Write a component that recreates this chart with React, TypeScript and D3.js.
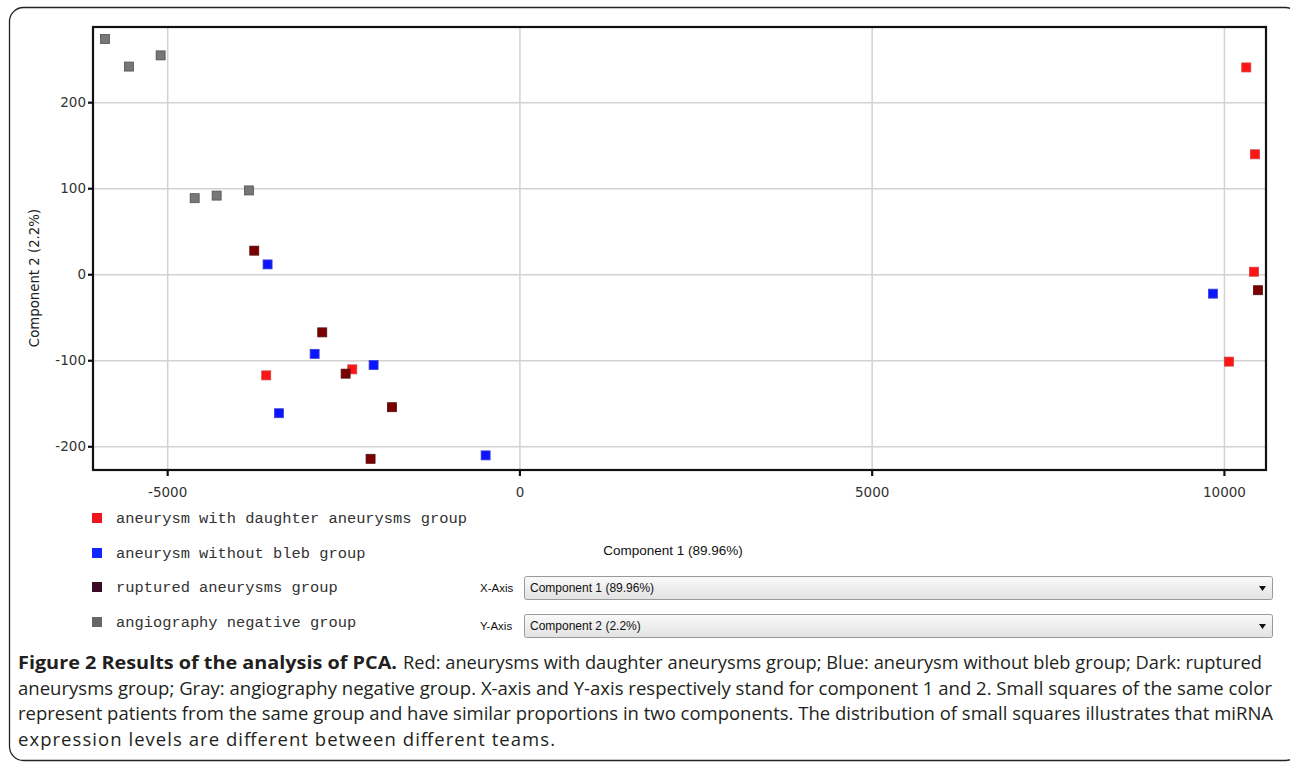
import React from "react";
import * as d3 from "d3";

// ---- Data ----
const groups = [
  "aneurysm with daughter aneurysms group",
  "aneurysm without bleb group",
  "ruptured aneurysms group",
  "angiography negative group",
];

const redPoints: [number, number][] = [
  [-3601, -117], [-2380, -110], [10310, 241], [10433, 140], [10419, 3.5], [10064, -101],
];
const bluePoints: [number, number][] = [
  [-3582, 12], [-2914, -92], [-2077, -105], [-3421, -161], [-487, -210], [9837, -22],
];
const darkPoints: [number, number][] = [
  [-3771, 28], [-2806, -67], [-2474, -115], [-1817, -154], [-2120, -214], [10476, -18],
];
const grayPoints: [number, number][] = [
  [-5891, 274], [-5550, 242], [-5100, 255], [-4617, 89], [-4305, 92], [-3847, 98],
];

const xTicks = [-5000, 0, 5000, 10000];
const yTicks = [-200, -100, 0, 100, 200];
const xDomain: [number, number] = [-6060, 10590];
const yDomain: [number, number] = [-227, 288];

const xTitle = "Component 1 (89.96%)";
const yTitle = "Component 2 (2.2%)";
const xDropdown = "Component 1 (89.96%)";
const yDropdown = "Component 2 (2.2%)";

const captionBold = "Figure 2 Results of the analysis of PCA.";
const captionLine1 = "Red: aneurysms with daughter aneurysms group; Blue: aneurysm without bleb group; Dark: ruptured";
const captionLine2 = "aneurysms group; Gray: angiography negative group. X-axis and Y-axis respectively stand for component 1 and 2. Small squares of the same color";
const captionLine3 = "represent patients from the same group and have similar proportions in two components. The distribution of small squares illustrates that miRNA";
const captionLine4 = "expression levels are different between different teams.";

const pointFill = ["#ff1414", "#0a14ff", "#7a0000", "#777777"];
const pointStroke = ["#d04040", "#4040d0", "#501010", "#505050"];
const legendFill = ["#f0141c", "#1028ff", "#3a0a26", "#666666"];

export default function App() {
  const W = 1290, H = 763;
  const plot = { left: 93, right: 1266, top: 27, bottom: 470 };
  const x = d3.scaleLinear().domain(xDomain).range([plot.left, plot.right]);
  const y = d3.scaleLinear().domain(yDomain).range([plot.bottom, plot.top]);
  const all = [redPoints, bluePoints, darkPoints, grayPoints];
  const ms = 9;
  const sans = "'DejaVu Sans', Verdana, sans-serif";
  const legendY = [518, 553, 587, 622];

  return (
    <svg width={W} height={H} style={{ position: "absolute", left: 0, top: 0, background: "#fff" }}>
      {/* outer frame */}
      <rect x={9.5} y={7.5} width={1290} height={753} rx={14} fill="none" stroke="#222" strokeWidth={1.3} />

      {/* grid */}
      {xTicks.map((t) => (
        <line key={"gx" + t} x1={x(t)} x2={x(t)} y1={plot.top} y2={plot.bottom} stroke="#d2d2d2" strokeWidth={1.5} />
      ))}
      {yTicks.map((t) => (
        <line key={"gy" + t} x1={plot.left} x2={plot.right} y1={y(t)} y2={y(t)} stroke="#d2d2d2" strokeWidth={1.5} />
      ))}

      {/* points */}
      {all.map((pts, gi) =>
        pts.map((p, i) => (
          <rect
            key={gi + "-" + i}
            x={x(p[0]) - ms / 2}
            y={y(p[1]) - ms / 2}
            width={ms}
            height={ms}
            fill={pointFill[gi]}
            stroke={pointStroke[gi]}
            strokeWidth={0.8}
          />
        ))
      )}

      {/* plot border */}
      <rect x={plot.left} y={plot.top} width={plot.right - plot.left} height={plot.bottom - plot.top} fill="none" stroke="#111" strokeWidth={2.2} />

      {/* y ticks */}
      {yTicks.map((t) => (
        <g key={"yt" + t}>
          <line x1={plot.left - 5} x2={plot.left} y1={y(t)} y2={y(t)} stroke="#111" strokeWidth={2.2} />
          <text x={plot.left - 7} y={y(t)} dy="0.35em" textAnchor="end" fontFamily={sans} fontSize={13.5} fill="#333">
            {t}
          </text>
        </g>
      ))}
      {/* x ticks */}
      {xTicks.map((t) => (
        <g key={"xt" + t}>
          <line x1={x(t)} x2={x(t)} y1={plot.bottom} y2={plot.bottom + 6} stroke="#111" strokeWidth={2.2} />
          <text x={x(t)} y={497} textAnchor="middle" fontFamily={sans} fontSize={13.5} fill="#333">
            {t}
          </text>
        </g>
      ))}

      {/* y title */}
      <text transform="translate(39,278) rotate(-90)" textAnchor="middle" fontFamily={sans} fontSize={13.3} fill="#222">
        {yTitle}
      </text>

      {/* legend */}
      {groups.map((g, i) => (
        <g key={"lg" + i}>
          <rect x={92} y={legendY[i] - 5} width={10} height={10} fill={legendFill[i]} />
          <text x={116} y={legendY[i]} dy="0.33em" fontFamily="'Liberation Mono', 'DejaVu Sans Mono', monospace" fontSize={15.4} fill="#333">
            {g}
          </text>
        </g>
      ))}

      {/* x title */}
      <text x={673} y={555} textAnchor="middle" fontFamily="'Liberation Sans', Arial, sans-serif" fontSize={13.5} fill="#111">
        {xTitle}
      </text>

      {/* dropdowns */}
      <defs>
        <linearGradient id="dd" x1="0" x2="0" y1="0" y2="1">
          <stop offset="0" stopColor="#fafafa" />
          <stop offset="1" stopColor="#e2e2e2" />
        </linearGradient>
      </defs>
      {[
        { label: "X-Axis", value: xDropdown, top: 576 },
        { label: "Y-Axis", value: yDropdown, top: 614 },
      ].map((d) => (
        <g key={d.label}>
          <text x={480} y={d.top + 16} fontFamily="'Liberation Sans', Arial, sans-serif" fontSize={11.5} fill="#111">
            {d.label}
          </text>
          <rect x={524.5} y={d.top + 0.5} width={748} height={23} rx={2} fill="url(#dd)" stroke="#9a9a9a" strokeWidth={1} />
          <text x={530} y={d.top + 16} fontFamily="'Liberation Sans', Arial, sans-serif" fontSize={12} fill="#111">
            {d.value}
          </text>
          <path d={`M${1259},${d.top + 10} L${1266},${d.top + 10} L${1262.5},${d.top + 15} Z`} fill="#111" />
        </g>
      ))}

      {/* caption */}
      <g fontFamily="'Open Sans', 'Noto Sans', sans-serif" fontSize={18.5} fill="#231f20">
        <text x={18} y={669} fontWeight="bold" textLength={379} lengthAdjust="spacingAndGlyphs">
          {captionBold}
        </text>
        <text x={403} y={669} textLength={859} lengthAdjust="spacingAndGlyphs">
          {captionLine1}
        </text>
        <text x={18} y={695} textLength={1254} lengthAdjust="spacingAndGlyphs">
          {captionLine2}
        </text>
        <text x={18} y={720} textLength={1255} lengthAdjust="spacingAndGlyphs">
          {captionLine3}
        </text>
        <text x={18} y={746} textLength={537} lengthAdjust="spacing">
          {captionLine4}
        </text>
      </g>
    </svg>
  );
}
